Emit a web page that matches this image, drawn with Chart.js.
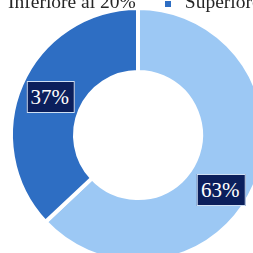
<!DOCTYPE html>
<html>
<head>
<meta charset="utf-8">
<script src="https://cdn.jsdelivr.net/npm/chart.js@4.4.0/dist/chart.umd.min.js"></script>
<style>
  html, body { margin: 0; padding: 0; width: 253px; height: 253px; overflow: hidden; background: #fff; }
  #wrap { position: absolute; left: 0; top: 0; width: 300px; height: 300px; }
  #legend {
    position: absolute; top: -8px; left: -12px;
    display: flex; align-items: flex-start; white-space: nowrap;
    font-family: "Liberation Serif", serif; font-size: 19.5px; line-height: 20px; color: #262626;
  }
  #legend .item { display: flex; align-items: flex-start; margin-right: 29px; }
  #legend .box { width: 6px; height: 6px; margin-top: 9px; margin-right: 14px; }
  .dl {
    position: absolute; transform: translate(-50%, -50%);
    background: #0b1f5c; border: 1px solid #cfe0f4; color: #fff;
    font-family: "Liberation Serif", serif; font-size: 21px; line-height: 21px;
    padding: 5px 5px 4px 3px; white-space: nowrap;
  }
</style>
</head>
<body>
<div id="wrap"><canvas id="donut" width="300" height="300"></canvas></div>
<div id="legend"></div>
<script>
const categories = ['Inferiore al 20%', 'Superiore al 20%'];
const shares = [63, 37];
const pctLabels = ['63%', '37%'];

const SLICE_COLORS = ['#9cc8f4', '#2e6ec3'];
// nudge for the 63% label, Excel pushed it off the slice centre
const LABEL_SHIFT = [{ x: -4, y: 17 }, { x: 0, y: 0 }];

const legend = document.getElementById('legend');
legend.innerHTML = categories.map((c, i) => `
  <div class="item"><span class="box" style="background:${SLICE_COLORS[i]}"></span><span>${c}</span></div>
`).join('');

const chart = new Chart(document.getElementById('donut'), {
  type: 'doughnut',
  data: {
    labels: categories,
    datasets: [{
      data: shares,
      backgroundColor: SLICE_COLORS,
      borderColor: '#ffffff',
      borderWidth: 4
    }]
  },
  options: {
    responsive: false,
    animation: false,
    cutout: '49.6%',
    layout: { padding: { left: 9, top: 6, right: 33, bottom: 36 } },
    plugins: { legend: { display: false }, tooltip: { enabled: false } }
  }
});

// data labels as html boxes on top of the arcs
chart.getDatasetMeta(0).data.forEach((arc, i) => {
  const p = arc.tooltipPosition();
  const el = document.createElement('div');
  el.className = 'dl';
  el.textContent = pctLabels[i];
  el.style.left = (p.x + LABEL_SHIFT[i].x) + 'px';
  el.style.top = (p.y + LABEL_SHIFT[i].y) + 'px';
  document.body.appendChild(el);
});
</script>
</body>
</html>
